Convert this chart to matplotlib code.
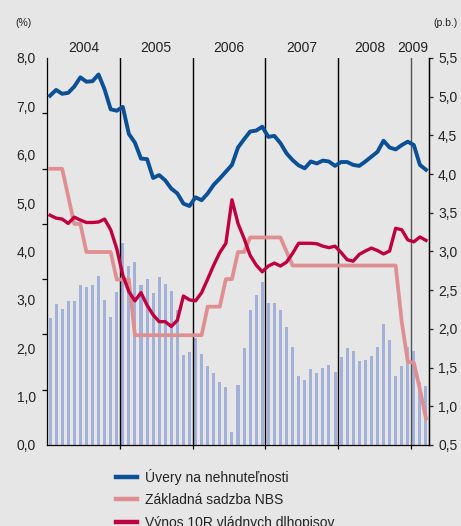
import numpy as np
import matplotlib
matplotlib.use("Agg")
import matplotlib.pyplot as plt
from matplotlib.lines import Line2D

plt.rcParams['font.family'] = ['Liberation Sans', 'DejaVu Sans']

years = ['2004', '2005', '2006', '2007', '2008', '2009']
year_label_x = [6, 18, 30, 42, 53.2, 60.4]

spread = [2.63, 2.92, 2.81, 2.98, 2.98, 3.31, 3.27, 3.31, 3.49, 3.00, 2.65, 3.16,
          4.18, 3.70, 3.78, 3.30, 3.43, 3.15, 3.47, 3.33, 3.18, 2.79, 1.86, 1.92,
          2.21, 1.88, 1.63, 1.49, 1.30, 1.20, 0.27, 1.24, 2.00, 2.79, 3.10, 3.37,
          2.94, 2.94, 2.79, 2.44, 2.03, 1.43, 1.34, 1.57, 1.49, 1.59, 1.65, 1.51,
          1.82, 2.00, 1.94, 1.74, 1.76, 1.84, 2.03, 2.50, 2.17, 1.43, 1.63, 2.03,
          1.94, 1.30, 1.22]

mortgage = [7.22, 7.34, 7.26, 7.28, 7.41, 7.60, 7.51, 7.52, 7.66, 7.35, 6.94, 6.91,
            6.99, 6.43, 6.25, 5.92, 5.91, 5.52, 5.58, 5.47, 5.30, 5.20, 4.99, 4.94,
            5.12, 5.06, 5.20, 5.38, 5.51, 5.65, 5.79, 6.15, 6.32, 6.48, 6.50, 6.58,
            6.37, 6.39, 6.24, 6.03, 5.89, 5.78, 5.72, 5.86, 5.82, 5.88, 5.86, 5.77,
            5.85, 5.85, 5.79, 5.77, 5.86, 5.96, 6.06, 6.29, 6.15, 6.11, 6.20, 6.27,
            6.20, 5.79, 5.69]

nbs_rate = [5.71, 5.71, 5.71, 5.14, 4.57, 4.57, 3.99, 3.99, 3.99, 3.99, 3.99, 3.42,
            3.42, 3.42, 2.27, 2.27, 2.27, 2.27, 2.27, 2.27, 2.27, 2.27, 2.27, 2.27,
            2.27, 2.27, 2.86, 2.86, 2.86, 3.43, 3.43, 3.99, 3.99, 4.29, 4.29, 4.29,
            4.29, 4.29, 4.29, 4.00, 3.71, 3.71, 3.71, 3.71, 3.71, 3.71, 3.71, 3.71,
            3.71, 3.71, 3.71, 3.71, 3.71, 3.71, 3.71, 3.71, 3.71, 3.71, 2.55, 1.72,
            1.70, 1.15, 0.55]

bond_yield = [4.75, 4.69, 4.67, 4.58, 4.71, 4.65, 4.60, 4.60, 4.61, 4.67, 4.45, 4.06,
              3.51, 3.17, 2.98, 3.15, 2.89, 2.69, 2.55, 2.55, 2.45, 2.58, 3.08, 3.00,
              2.98, 3.15, 3.43, 3.72, 3.98, 4.17, 5.07, 4.58, 4.27, 3.92, 3.72, 3.58,
              3.70, 3.76, 3.70, 3.78, 3.96, 4.17, 4.17, 4.17, 4.16, 4.11, 4.08, 4.11,
              3.98, 3.83, 3.80, 3.94, 4.01, 4.07, 4.02, 3.95, 4.01, 4.48, 4.45, 4.24,
              4.20, 4.30, 4.23]

labels = ['Úvery na nehnuteľnosti', 'Základná sadzba NBS', 'Výnos 10R vládnych dlhopisov']
left_ticks = [0, 1, 2, 3, 4, 5, 6, 7, 8]
right_ticks = [0.5, 1.0, 1.5, 2.0, 2.5, 3.0, 3.5, 4.0, 4.5, 5.0, 5.5]

BG = '#e6e6e6'
C_BLUE = '#0b4f97'
C_PINK = '#df8f92'
C_RED = '#c0003f'
C_BAR = '#a3b0d8'

W, H = 461, 526
fig = plt.figure(figsize=(W / 100, H / 100), dpi=100, facecolor=BG)

def fx(px):
    return px / W

def fy(py):
    return 1 - py / H

L, R, T, B = 47, 429, 58, 445
ax = fig.add_axes([fx(L), fy(B), (R - L) / W, (B - T) / H])
ax.set_facecolor(BG)
n = len(spread)
x = np.arange(n) + 0.5
ax.set_xlim(0, n)
ax.set_ylim(0, 8)

ax.bar(x, spread, width=0.5, color=C_BAR, zorder=1)
for b in [12, 24, 36, 48]:
    ax.axvline(b, color='black', lw=1.0, zorder=2)
ax.axvline(60, color='#555555', lw=1.0, zorder=2)

ax.plot(x, nbs_rate, color=C_PINK, lw=2.7, zorder=3, solid_joinstyle='round')
ax.plot(x, bond_yield, color=C_RED, lw=2.4, zorder=4, solid_joinstyle='round')
ax.plot(x, mortgage, color=C_BLUE, lw=2.8, zorder=5, solid_joinstyle='round')

for s in ['top']:
    ax.spines[s].set_visible(False)
for s in ['left', 'right', 'bottom']:
    ax.spines[s].set_color('black')
    ax.spines[s].set_linewidth(0.9)

ax.set_xticks([12, 24, 36, 48, 60])
ax.set_xticklabels([])
ax.tick_params(axis='x', direction='out', length=3, width=0.9)

ax.set_yticks(left_ticks)
ax.set_yticklabels([f'{v:.1f}'.replace('.', ',') for v in left_ticks])
ax.set_yticks(np.linspace(0, 8, 8), minor=True)
ax.tick_params(axis='y', which='major', length=0, pad=8, labelsize=10, colors='#222222')
ax.tick_params(axis='y', which='minor', length=3.5, width=0.9, direction='out')

ax2 = ax.twinx()
ax2.set_ylim(0.5, 5.5)
ax2.set_yticks(right_ticks)
ax2.set_yticklabels([f'{v:.1f}'.replace('.', ',') for v in right_ticks])
ax2.tick_params(axis='y', length=3, width=0.9, pad=3.5, labelsize=10, colors='#222222')
for s in ['top', 'left', 'bottom']:
    ax2.spines[s].set_visible(False)
ax2.spines['right'].set_linewidth(0.9)
ax2.patch.set_visible(False)

for yl, xp in zip(years, year_label_x):
    ax.text(xp, 1 + (T - 48) / (B - T), yl, transform=ax.get_xaxis_transform(),
            ha='center', va='center', fontsize=10, color='#222222')

fig.text(fx(23.5), fy(22.5), '(%)', ha='center', va='center', fontsize=7.5, color='#222222')
fig.text(fx(445), fy(22.5), '(p.b.)', ha='center', va='center', fontsize=7.5, color='#222222')

handles = [Line2D([], [], color=C_BLUE, lw=3.2),
           Line2D([], [], color=C_PINK, lw=3.2),
           Line2D([], [], color=C_RED, lw=3.2)]
fig.legend(handles, labels, loc='upper left', bbox_to_anchor=(fx(116), fy(469)),
           bbox_transform=fig.transFigure, frameon=False, fontsize=10,
           handlelength=1.5, handletextpad=0.6, labelspacing=0.6,
           borderpad=0, borderaxespad=0, labelcolor='#222222')

fig.savefig('out.png', dpi=100, facecolor=BG)
